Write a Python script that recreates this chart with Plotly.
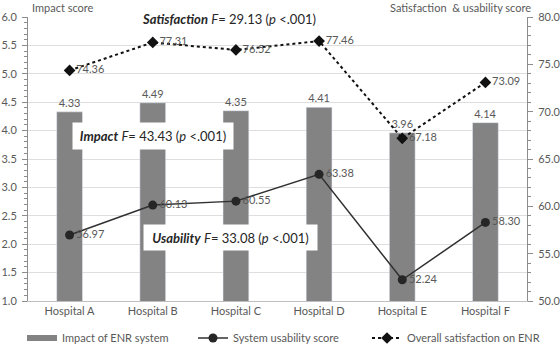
import plotly.graph_objects as go

hospitals = ["Hospital A", "Hospital B", "Hospital C", "Hospital D", "Hospital E", "Hospital F"]
impact = [4.33, 4.49, 4.35, 4.41, 3.96, 4.14]
usability = [56.97, 60.13, 60.55, 63.38, 52.24, 58.30]
satisfaction = [74.36, 77.31, 76.52, 77.46, 67.18, 73.09]

FONT = "Lato"
GRAY_TXT = "#595959"
BAR = "#838383"

L, R, T, B = 28, 33, 17, 51
PW, PH = 560 - L - R, 352 - T - B


def px_x(px):
    return (px - L) / PW


def px_y(py):
    return 1 - (py - T) / PH


fig = go.Figure()
fig.add_trace(go.Bar(
    x=hospitals, y=impact, marker_color=BAR, showlegend=False,
    text=[f"{v:.2f}" for v in impact], textposition="outside",
    textfont=dict(color=GRAY_TXT, size=11, family=FONT), cliponaxis=False,
))
# legend proxy for bars
fig.add_trace(go.Scatter(x=[None], y=[None], mode="lines", name="Impact of ENR system",
                         line=dict(color=BAR, width=6), legend="legend"))
fig.add_trace(go.Scatter(
    x=hospitals, y=usability, yaxis="y2", mode="lines+markers+text",
    name="System usability score", legend="legend2",
    line=dict(color="#303030", width=1.5),
    marker=dict(symbol="circle", size=9, color="#262626"),
    text=[f"{v:.2f}" for v in usability], textposition="middle right",
    textfont=dict(color=GRAY_TXT, size=11, family=FONT), cliponaxis=False,
))
fig.add_trace(go.Scatter(
    x=hospitals, y=satisfaction, yaxis="y2", mode="lines+markers+text",
    name="Overall satisfaction on ENR", legend="legend3",
    line=dict(color="#111111", width=2, dash="dot"),
    marker=dict(symbol="diamond", size=9, color="#111111"),
    text=[f"{v:.2f}" for v in satisfaction], textposition="middle right",
    textfont=dict(color=GRAY_TXT, size=11, family=FONT), cliponaxis=False,
))

ann_font = dict(family=FONT, size=13, color="#262626")
annotations = [
    dict(text="<b><i>Satisfaction</i></b> <i>F</i>= 29.13 (<i>p</i> &lt;.001)",
         xref="paper", yref="paper", x=px_x(135), y=px_y(19),
         xanchor="left", yanchor="middle", showarrow=False, bgcolor="white",
         borderpad=6, width=221, height=14, align="left", font=ann_font),
    dict(text="<b><i>Impact</i></b> <i>F</i>= 43.43 (<i>p</i> &lt;.001)",
         xref="paper", yref="paper", x=px_x(153), y=px_y(136),
         xanchor="center", yanchor="middle", showarrow=False, bgcolor="white",
         borderpad=4, width=152, height=18, align="center", font=ann_font),
    dict(text="<b><i>Usability</i></b> <i>F</i>= 33.08 (<i>p</i> &lt;.001)",
         xref="paper", yref="paper", x=px_x(230.5), y=px_y(237.5),
         xanchor="center", yanchor="middle", showarrow=False, bgcolor="white",
         borderpad=4, width=165, height=17, align="center", font=ann_font),
    dict(text="Impact score", xref="paper", yref="paper",
         x=px_x(30), y=px_y(7), xanchor="left", yanchor="middle", showarrow=False,
         font=dict(family=FONT, size=11, color=GRAY_TXT)),
    dict(text="Satisfaction  &amp; usability score", xref="paper", yref="paper",
         x=px_x(533), y=px_y(7), xanchor="right", yanchor="middle", showarrow=False,
         font=dict(family=FONT, size=11, color=GRAY_TXT)),
]


def leg(px_left):
    return dict(orientation="h", xref="paper", yref="paper",
                x=px_x(px_left), y=px_y(338), xanchor="left", yanchor="middle",
                font=dict(family=FONT, size=11, color=GRAY_TXT),
                itemwidth=30, bgcolor="rgba(0,0,0,0)")


fig.update_layout(
    width=560, height=352,
    margin=dict(l=L, r=R, t=T, b=B, autoexpand=False),
    paper_bgcolor="white", plot_bgcolor="white",
    font=dict(family=FONT, size=11, color=GRAY_TXT),
    bargap=0.69,
    showlegend=True,
    legend=leg(22), legend2=leg(193), legend3=leg(367),
    xaxis=dict(showgrid=False, showline=True, linecolor="#bfbfbf", linewidth=1,
               ticks="", tickfont=dict(family=FONT, size=11, color=GRAY_TXT)),
    yaxis=dict(range=[1, 6], dtick=0.5, tickformat=".1f", showgrid=True,
               gridcolor="#dedede", gridwidth=1, zeroline=False,
               showline=True, linecolor="#8c8c8c", linewidth=1,
               ticks="outside", ticklen=5, tickcolor="#8c8c8c", ticklabelstandoff=3,
               minor=dict(ticks="outside", dtick=0.1, ticklen=3, tickcolor="#8c8c8c", showgrid=False),
               tickfont=dict(family=FONT, size=11, color=GRAY_TXT)),
    yaxis2=dict(range=[50, 80], dtick=5, tickformat=".1f", overlaying="y", side="right",
                showgrid=False, zeroline=False,
                showline=True, linecolor="#8c8c8c", linewidth=1,
                ticks="outside", ticklen=5, tickcolor="#8c8c8c", ticklabelstandoff=3,
                minor=dict(ticks="outside", dtick=1, ticklen=3, tickcolor="#8c8c8c", showgrid=False),
                tickfont=dict(family=FONT, size=11, color=GRAY_TXT)),
    annotations=annotations,
)

fig.write_html("out.html")
